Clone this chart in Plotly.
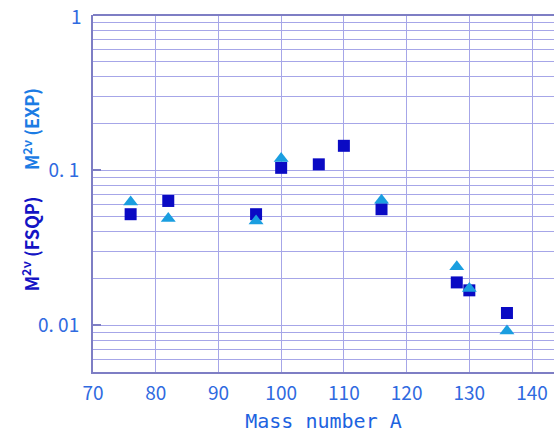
import plotly.graph_objects as go

# Mass numbers of the nuclei
mass_fsqp = [76, 82, 96, 100, 106, 110, 116, 128, 130, 136]
m2v_fsqp = [0.052, 0.0633, 0.052, 0.1035, 0.109, 0.1435, 0.056, 0.0189, 0.0168, 0.0120]

mass_exp = [76, 82, 96, 100, 116, 128, 130, 136]
m2v_exp = [0.0624, 0.0488, 0.047, 0.119, 0.064, 0.0238, 0.01725, 0.0092]

x_ticks = [70, 80, 90, 100, 110, 120, 130, 140]
y_major = [0.01, 0.1]
y_major_text = ["0. 01", "0. 1"]
y_top_text = "1"
y_minor = [m * 10.0 ** e for e in (-3, -2, -1) for m in range(2, 10) if m * 10.0 ** e >= 0.005]

grid_col = "#a6a6e8"
axis_col = "#7e7ec4"
label_col = "#2f6ae0"
font_ticks = "Liberation Sans Narrow, Noto Sans CJK JP, sans-serif"
font_mono = "DejaVu Sans Mono, monospace"

fig = go.Figure()
fig.add_trace(go.Scatter(
    x=mass_fsqp, y=m2v_fsqp, mode="markers", name="FSQP",
    marker=dict(symbol="square", size=12, color="#0a0ac4", line=dict(width=0)),
))
fig.add_trace(go.Scatter(
    x=mass_exp, y=m2v_exp, mode="markers", name="EXP",
    marker=dict(symbol="triangle-up", size=13, color="#1a9ee0", line=dict(width=0)),
))

fig.update_layout(
    width=554, height=434,
    margin=dict(l=93, r=0, t=15, b=62),
    paper_bgcolor="white", plot_bgcolor="white",
    showlegend=False,
    xaxis=dict(
        range=[70, 143.5], tickvals=x_ticks,
        showgrid=True, gridcolor=grid_col, gridwidth=1.3,
        showline=True, linecolor=axis_col, linewidth=2, mirror=False,
        ticks="", zeroline=False,
        tickfont=dict(family=font_ticks, size=19, color=label_col),
        ticklabelstandoff=3,
        title=dict(text="Mass number A", standoff=10,
                   font=dict(family=font_mono, size=20, color="#1d63e0")),
    ),
    yaxis=dict(
        type="log", range=[-2.301, 0], tickmode="array",
        tickvals=y_major, ticktext=y_major_text,
        showgrid=True, gridcolor=grid_col, gridwidth=1.3,
        showline=True, linecolor=axis_col, linewidth=2,
        ticks="inside", ticklen=8, tickcolor=axis_col, tickwidth=1.5,
        tickfont=dict(family=font_ticks, size=19, color=label_col),
        ticklabelstandoff=8,
        minor=dict(tickvals=y_minor, showgrid=True, gridcolor=grid_col,
                   gridwidth=1.3, ticks=""),
        zeroline=False,
    ),
    # top frame line, which coincides with the decade line at 1
    shapes=[dict(type="line", xref="paper", yref="paper", x0=0, x1=1, y0=1, y1=1,
                 line=dict(color=axis_col, width=2))],
)

# label for the decade at the top edge of the axis
fig.add_annotation(
    text=y_top_text, showarrow=False, xref="paper", yref="paper",
    x=0, y=1, xanchor="right", yanchor="middle", xshift=-9,
    font=dict(family=font_ticks, size=19, color=label_col),
)

# Two-coloured vertical axis title
fig.add_annotation(
    text="<b>M<sup>2ν</sup> (EXP)</b>", textangle=-90, showarrow=False,
    xref="paper", yref="paper", x=-0.135, y=0.68, xanchor="center", yanchor="middle",
    font=dict(family="Noto Sans CJK JP, sans-serif", size=18, color="#1c7ce4"),
)
fig.add_annotation(
    text="<b>M<sup>2ν</sup> (FSQP)</b>", textangle=-90, showarrow=False,
    xref="paper", yref="paper", x=-0.135, y=0.36, xanchor="center", yanchor="middle",
    font=dict(family="Noto Sans CJK JP, sans-serif", size=18, color="#1414c4"),
)

fig.write_html("out.html")
